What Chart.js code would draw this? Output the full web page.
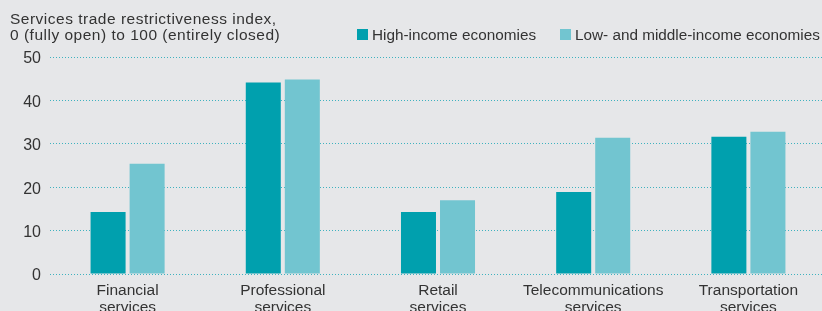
<!DOCTYPE html>
<html>
<head>
<meta charset="utf-8">
<script src="https://cdn.jsdelivr.net/npm/chart.js@4.4.0/dist/chart.umd.min.js"></script>
<style>
  html, body { margin: 0; padding: 0; background: #e6e7e9; overflow: hidden; }
  .wrap { position: relative; width: 822px; height: 311px; overflow: hidden; font-family: "Liberation Sans", Arial, sans-serif; color: #333; }
  canvas { position: absolute; left: 0; top: 0; }
  .title { position: absolute; left: 10px; top: 11px; font-size: 15.5px; line-height: 15.5px; letter-spacing: 0.5px; white-space: nowrap; }
  .leg { position: absolute; top: 27px; font-size: 15.3px; line-height: 16px; white-space: nowrap; }
  .leg i { position: absolute; left: -15px; top: 2px; width: 11px; height: 11px; }
</style>
</head>
<body>
<div class="wrap">
  <canvas id="myChart" width="826" height="311"></canvas>
  <div class="title">Services trade restrictiveness index,<br>0 (fully open) to 100 (entirely closed)</div>
  <div class="leg" style="left:372px"><i style="background:#00a0ae"></i>High-income economies</div>
  <div class="leg" style="left:575px"><i style="background:#72c5d0"></i>Low- and middle-income economies</div>
</div>
<script>
var categories = [
  ["Financial", "services"],
  ["Professional", "services"],
  ["Retail", "services"],
  ["Telecommunications", "services"],
  ["Transportation", "services"],
];
var highIncome = [14.3, 44.1, 14.3, 18.9, 31.6];
var lowMiddleIncome = [25.4, 44.8, 17.0, 31.4, 32.8];
var yTicks = [0, 10, 20, 30, 40, 50];

var ctx = document.getElementById("myChart").getContext("2d");
var myChart = new Chart(ctx, {
  type: "bar",
  data: {
    labels: categories,
    datasets: [
      {
        label: "High-income economies",
        data: highIncome,
        backgroundColor: "#00a0ae",
      },
      {
        label: "Low- and middle-income economies",
        data: lowMiddleIncome,
        backgroundColor: "#72c5d0",
      },
    ],
  },
  options: {
    responsive: false,
    animation: false,
    devicePixelRatio: 1,
    layout: { padding: { top: 57, left: 0, right: 0, bottom: 0 } },
    categoryPercentage: 0.503,
    barPercentage: 0.897,
    plugins: {
      legend: { display: false },
      tooltip: { enabled: false },
    },
    scales: {
      x: {
        grid: { display: false, drawTicks: false },
        border: { display: false },
        ticks: {
          color: "#333",
          font: { family: "Liberation Sans", size: 15.5, lineHeight: 1.05 },
          padding: 9,
          maxRotation: 0,
          autoSkip: false,
        },
        afterFit: function (scale) { scale.height = 37; },
      },
      y: {
        min: 0,
        max: 50,
        afterBuildTicks: function (scale) {
          scale.ticks = yTicks.map(function (v) { return { value: v }; });
        },
        grid: {
          color: "#3fb2bf",
          lineWidth: 1,
          drawTicks: false,
        },
        border: { display: false, dash: [1, 2] },
        ticks: {
          color: "#333",
          font: { family: "Liberation Sans", size: 16 },
          padding: 9,
          labelOffset: 2,
        },
        afterFit: function (scale) { scale.width = 50; },
      },
    },
  },
});
</script>
</body>
</html>
